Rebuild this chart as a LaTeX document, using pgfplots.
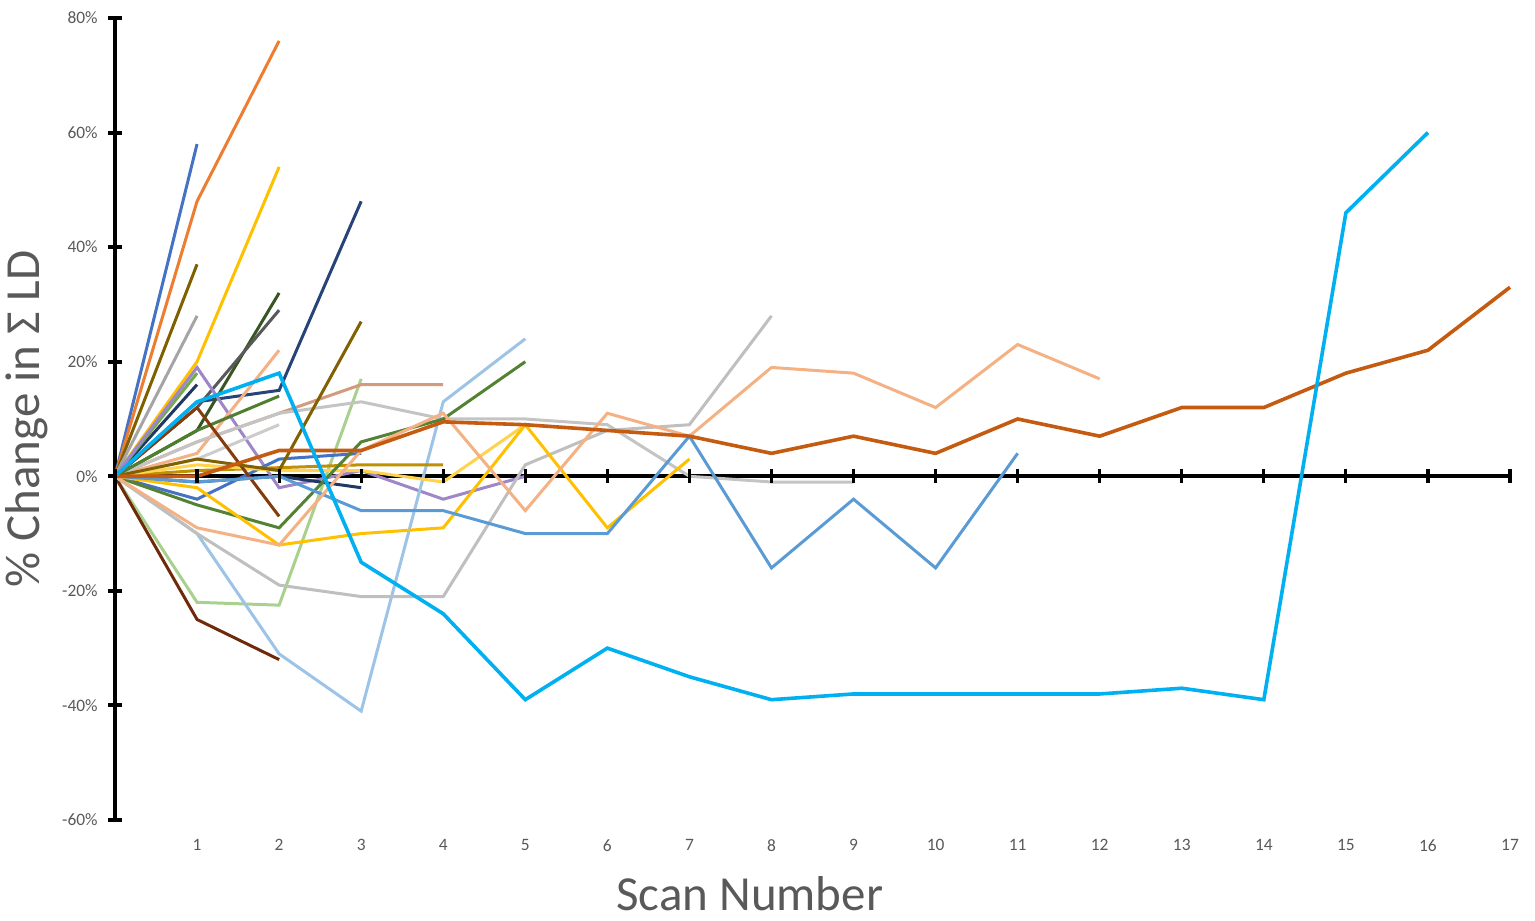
\documentclass[border=0pt]{standalone}
\usepackage{fontspec}
\setmainfont{Carlito}
\usepackage{pgfplots}
\pgfplotsset{compat=1.18}
\definecolor{cBlue}{HTML}{4472C4}
\definecolor{cOrange}{HTML}{ED7D31}
\definecolor{cGold}{HTML}{FFC000}
\definecolor{cOlive}{HTML}{7F6000}
\definecolor{cGray}{HTML}{A5A5A5}
\definecolor{cNavy}{HTML}{264478}
\definecolor{cNavyB}{HTML}{1F3864}
\definecolor{cDkGreen}{HTML}{375623}
\definecolor{cDkGray}{HTML}{595959}
\definecolor{cPurple}{HTML}{9E86C8}
\definecolor{cGreen}{HTML}{70AD47}
\definecolor{cLtGreen}{HTML}{A9D18E}
\definecolor{cDkBrown}{HTML}{6E2A0A}
\definecolor{cLtBlue}{HTML}{9DC3E6}
\definecolor{cLtGray}{HTML}{BFBFBF}
\definecolor{cSalmon}{HTML}{F4B183}
\definecolor{cTan}{HTML}{D29B7D}
\definecolor{cLtGray2}{HTML}{C4C4C4}
\definecolor{cLtGray3}{HTML}{CCCCCC}
\definecolor{cDkOrange}{HTML}{C55A11}
\definecolor{cGreen2}{HTML}{548235}
\definecolor{cGreen3}{HTML}{4E7F2E}
\definecolor{cSteel}{HTML}{5B9BD5}
\definecolor{cDkGold}{HTML}{BF9000}
\definecolor{cYellow}{HTML}{FFC000}
\definecolor{cYellow2}{HTML}{FFD34D}
\definecolor{cBrown}{HTML}{843C0C}
\definecolor{cOlive2}{HTML}{806000}
\definecolor{cCyan}{HTML}{00B0F0}
\definecolor{labgray}{HTML}{595959}
\begin{document}
\begin{tikzpicture}
\begin{axis}[
  scale only axis, width=697.5pt, height=401pt,
  xmin=0, xmax=17, ymin=-60, ymax=80,
  clip=false,
  axis x line*=bottom, axis y line*=left,
  x axis line style={draw=none},
  y axis line style={black, line width=2pt, -},
  xtick={1,...,17},
  xtick style={draw=none},
  ytick={-60,-40,-20,0,20,40,60,80},
  yticklabels={-60\%,-40\%,-20\%,0\%,20\%,40\%,60\%,80\%},
  ytick style={black, line width=2pt},
  tick align=center, major tick length=7pt,
  /pgf/number format/assume math mode=true,
  ticklabel style={font=\fontsize{8.7}{10}\selectfont, text=labgray},
  yticklabel style={inner sep=0pt, xshift=-5pt},
  xticklabel style={inner sep=0pt, yshift=-6pt},
  xlabel={Scan Number},
  ylabel={\% Change in Σ LD},
  label style={font=\fontsize{24.5}{28}\selectfont, text=labgray, inner sep=0pt},
  xlabel style={at={(rel axis cs:0.455,0)}, anchor=north, yshift=-28pt},
  ylabel style={at={(rel axis cs:-0.048,0.5)}, anchor=south, rotate=0},
  every axis plot/.append style={line width=1.5pt},
]
% zero line with ticks
\addplot[black, line width=2pt, mark=|, mark size=3.5pt, mark options={black, line width=1.6pt}] coordinates {(0,0)(1,0)(2,0)(3,0)(4,0)(5,0)(6,0)(7,0)(8,0)(9,0)(10,0)(11,0)(12,0)(13,0)(14,0)(15,0)(16,0)(17,0)};

\addplot[cBlue] coordinates {(0,0)(1,58)};
\addplot[cOrange] coordinates {(0,0)(1,48)(2,76)};
\addplot[cGold] coordinates {(0,0)(1,20)(2,54)};
\addplot[cOlive] coordinates {(0,0)(1,37)};
\addplot[cGray] coordinates {(0,0)(1,28)};
\addplot[cNavy] coordinates {(0,0)(1,13)(2,15)(3,48)};
\addplot[cNavyB] coordinates {(0,0)(1,16)};
\addplot[cDkGreen] coordinates {(0,0)(1,8)(2,32)};
\addplot[cDkGray] coordinates {(0,0)(1,12)(2,29)};
\addplot[cGreen] coordinates {(0,0)(1,18)};
\addplot[cPurple] coordinates {(0,0)(1,19)(2,-2)(3,1)(4,-4)(5,0)};
\addplot[cLtGreen] coordinates {(0,0)(1,-22)(2,-22.5)(3,17)};
\addplot[cDkBrown] coordinates {(0,0)(1,-25)(2,-32)};
\addplot[cLtBlue] coordinates {(0,0)(1,-10)(2,-31)(3,-41)(4,13)(5,24)};
\addplot[cLtGray] coordinates {(0,0)(1,-10)(2,-19)(3,-21)(4,-21)(5,2)(6,8)(7,9)(8,28)};
\addplot[cSalmon] coordinates {(0,0)(1,4)(2,22)};
\addplot[cTan] coordinates {(0,0)(1,6)(2,11)(3,16)(4,16)};
\addplot[cLtGray2] coordinates {(0,0)(1,6)(2,11)(3,13)(4,10)(5,10)(6,9)(7,0)(8,-1)(9,-1)};
\addplot[cLtGray3] coordinates {(0,0)(1,3)(2,9)};
\addplot[cGreen3] coordinates {(0,0)(1,8)(2,14)};
\addplot[cBlue] coordinates {(0,0)(1,-4)(2,3)(3,4)};
\addplot[cNavyB] coordinates {(0,0)(1,-1)(2,0)(3,-2)};
\addplot[cDkGold] coordinates {(0,0)(1,1)(2,1.5)(3,2)(4,2)};
\addplot[cYellow2] coordinates {(0,0)(1,2)(2,1)(3,1)(4,-1)(5,9)};
\addplot[cBrown] coordinates {(0,0)(1,12)(2,-7)};
\addplot[cOlive2] coordinates {(0,0)(1,3)(2,1)(3,27)};
\addplot[cGreen2] coordinates {(0,0)(1,-5)(2,-9)(3,6)(4,10)(5,20)};
\addplot[cYellow] coordinates {(0,0)(1,-2)(2,-12)(3,-10)(4,-9)(5,9)(6,-9)(7,3)};
\addplot[cSteel] coordinates {(0,0)(1,-1)(2,0)(3,-6)(4,-6)(5,-10)(6,-10)(7,7)(8,-16)(9,-4)(10,-16)(11,4)};
\addplot[cSalmon] coordinates {(0,0)(1,-9)(2,-12)(3,4.5)(4,11)(5,-6)(6,11)(7,7)(8,19)(9,18)(10,12)(11,23)(12,17)};
\addplot[cDkOrange, line width=1.8pt] coordinates {(0,0)(1,0)(2,4.5)(3,4.5)(4,9.5)(5,9)(6,8)(7,7)(8,4)(9,7)(10,4)(11,10)(12,7)(13,12)(14,12)(15,18)(16,22)(17,33)};
\addplot[cCyan, line width=1.8pt] coordinates {(0,0)(1,13)(2,18)(3,-15)(4,-24)(5,-39)(6,-30)(7,-35)(8,-39)(9,-38)(10,-38)(11,-38)(12,-38)(13,-37)(14,-39)(15,46)(16,60)};
\end{axis}
\pgfresetboundingbox
\path[use as bounding box] ([shift={(-57.5pt,-50.5pt)}]current axis.south west) rectangle ([shift={(12.5pt,9pt)}]current axis.north east);
\end{tikzpicture}
\end{document}
